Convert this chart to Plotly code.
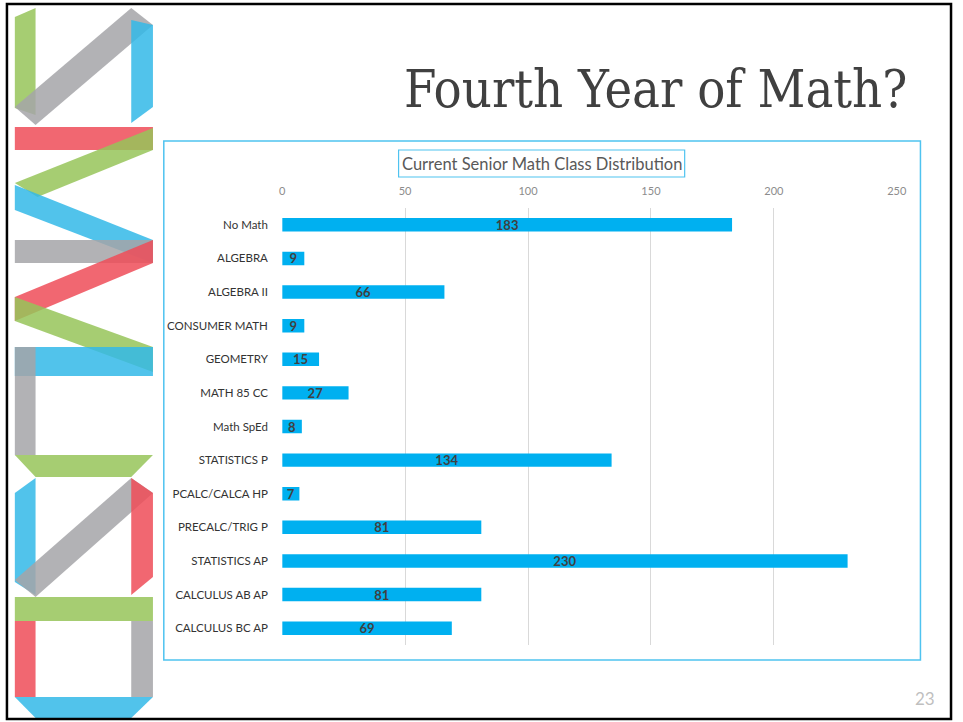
import plotly.graph_objects as go

W, H = 963, 722

categories = ["No Math", "ALGEBRA", "ALGEBRA II", "CONSUMER MATH", "GEOMETRY",
              "MATH 85 CC", "Math SpEd", "STATISTICS P", "PCALC/CALCA HP",
              "PRECALC/TRIG P", "STATISTICS AP", "CALCULUS AB AP", "CALCULUS BC AP"]
values = [183, 9, 66, 9, 15, 27, 8, 134, 7, 81, 230, 81, 69]
x_ticks = [0, 50, 100, 150, 200, 250]

BLUE_BAR = "#00B0F0"
FONT = "Lato"


def px(x, y):
    return x / W, 1 - y / H


def poly(points, color, opacity=0.85):
    pts = [px(x, y) for x, y in points]
    path = "M " + " L ".join(f"{a:.5f},{b:.5f}" for a, b in pts) + " Z"
    return dict(type="path", xref="paper", yref="paper", path=path,
                fillcolor=color, line=dict(width=0), opacity=opacity, layer="above")


def rect(x0, y0, x1, y1, color, width=1.5):
    a0, b0 = px(x0, y0)
    a1, b1 = px(x1, y1)
    return dict(type="rect", xref="paper", yref="paper", x0=a0, y0=b1, x1=a1, y1=b0,
                line=dict(color=color, width=width), fillcolor="rgba(0,0,0,0)")


G = "#97C459"
GR = "#A5A5A8"
B = "#33B8E8"
R = "#EE4C58"

shapes = [
    poly([(12, 17), (33, 8), (33, 115), (12, 108)], G),
    poly([(12, 107), (130, 8), (152, 25), (33, 125)], GR),
    poly([(130, 20), (152, 25), (152, 107), (130, 123)], B),
    poly([(12, 127), (152, 127), (152, 150), (12, 150)], R),
    poly([(152, 128), (152, 150), (35, 197), (12, 183)], G),
    poly([(12, 185), (12, 210), (152, 263), (152, 240)], B),
    poly([(12, 240), (152, 240), (152, 263), (12, 263)], GR),
    poly([(152, 240), (152, 263), (12, 321), (12, 297)], R),
    poly([(12, 297), (12, 321), (152, 372), (152, 347)], G),
    poly([(12, 347), (152, 347), (152, 376), (12, 376)], B),
    poly([(12, 347), (33, 347), (33, 455), (12, 455)], GR),
    poly([(12, 455), (152, 455), (130, 477), (33, 477)], G),
    poly([(12, 493), (33, 478), (33, 595), (12, 582)], B),
    poly([(130, 478), (152, 493), (33, 597), (12, 580)], GR),
    poly([(130, 478), (152, 493), (152, 577), (130, 595)], R),
    poly([(12, 597), (152, 597), (152, 621), (12, 621)], G),
    poly([(12, 621), (33, 621), (33, 697), (12, 697)], R),
    poly([(130, 621), (152, 621), (152, 697), (130, 697)], GR),
    poly([(12, 697), (152, 697), (130, 718), (33, 718)], B),
    rect(163, 141, 930, 660, "#4FC3F0", 1.5),
    rect(401, 150, 691, 177, "#4FC3F0", 1.2),
    rect(4, 4, 961, 719, "#000000", 2.5),
]

fig = go.Figure()
fig.add_trace(go.Bar(
    y=categories, x=values, orientation="h",
    marker=dict(color=BLUE_BAR, line=dict(width=0)),
    text=[str(v) for v in values], textposition="inside", textangle=0,
    insidetextanchor="middle", constraintext="none",
    insidetextfont=dict(family=FONT, size=13, color="#404040", weight="bold"),
    hoverinfo="skip",
))

tx, ty = px(546, 164)
nx, ny = px(935, 698)
hx, hy = px(918, 89)

fig.update_layout(
    width=W, height=H, autosize=False,
    margin=dict(l=0, r=0, t=0, b=0),
    paper_bgcolor="white", plot_bgcolor="white",
    showlegend=False, bargap=0.6,
    shapes=shapes,
    xaxis=dict(domain=[283 / W, 906 / W], range=[0, 250], side="top",
               tickvals=x_ticks, showgrid=True, gridcolor="#D9D9D9", gridwidth=1,
               zeroline=False, showline=False, ticks="", ticklabelstandoff=10,
               tickfont=dict(family=FONT, size=11, color="#8C8C8C")),
    yaxis=dict(domain=[1 - 645 / H, 1 - 208 / H], categoryorder="array",
               categoryarray=categories, autorange="reversed",
               showgrid=False, zeroline=False, showline=False,
               ticks="outside", ticklen=11, tickcolor="rgba(0,0,0,0)",
               tickfont=dict(family=FONT, size=11.5, color="#333333")),
    annotations=[
        dict(text="Current Senior Math Class Distribution", x=tx, y=ty, xref="paper",
             yref="paper", showarrow=False, xanchor="center", yanchor="middle",
             font=dict(family=FONT, size=16.5, color="#595959")),
        dict(text="Fourth Year of Math?", x=hx, y=hy, xref="paper", yref="paper",
             showarrow=False, xanchor="right", yanchor="middle",
             font=dict(family="DejaVu Serif Condensed", size=52, color="#404040")),
        dict(text="23", x=nx, y=ny, xref="paper", yref="paper", showarrow=False,
             xanchor="center", yanchor="middle",
             font=dict(family=FONT, size=17, color="#BFBFBF")),
    ],
)

post = (
    "document.documentElement.style.margin='0';"
    "document.body.style.margin='0';document.body.style.padding='0';"
    "document.body.style.overflow='hidden';"
    "document.documentElement.style.overflow='hidden';"
)

fig.write_html(
    "out.html",
    config={"displayModeBar": False, "responsive": False},
    post_script=post,
)
